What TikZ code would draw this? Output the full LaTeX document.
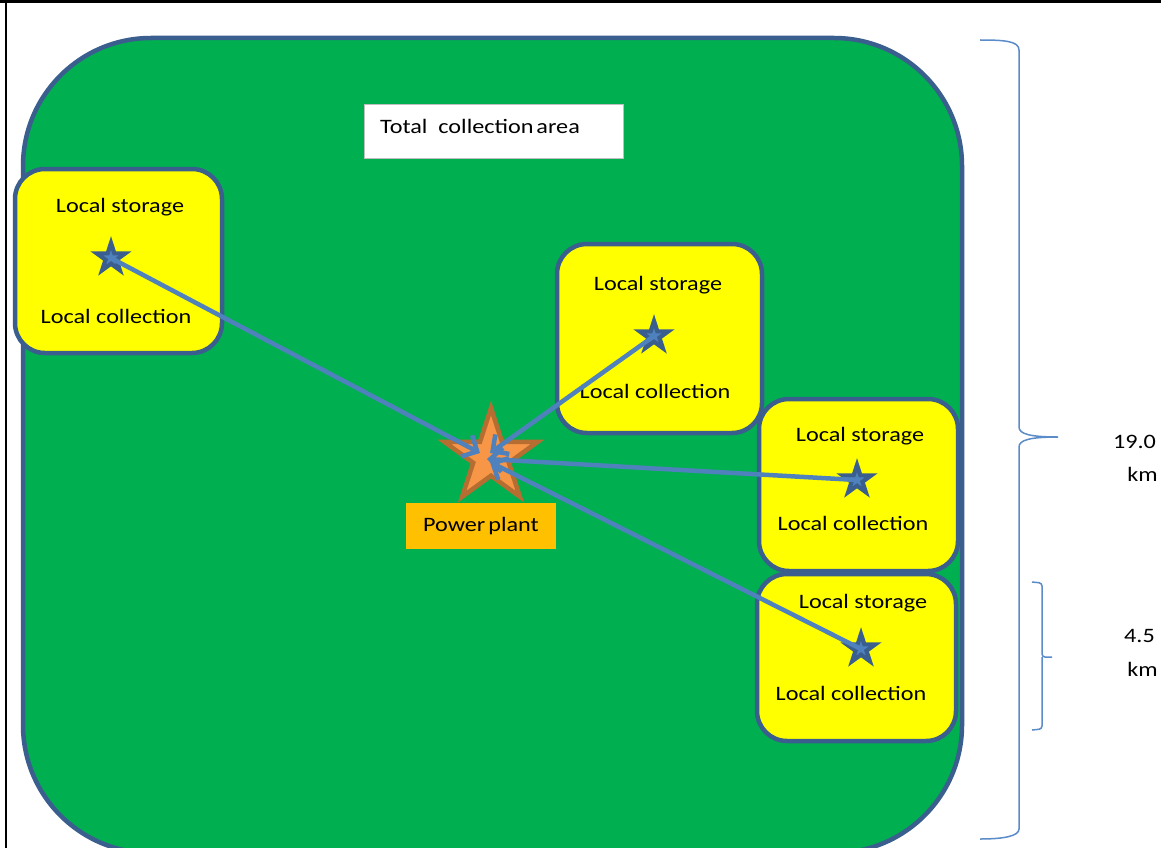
\documentclass[tikz,border=0pt]{standalone}
\usepackage{fontspec}
\setmainfont[FakeStretch=1.18]{Carlito}
\usetikzlibrary{shapes.geometric,arrows.meta}
\definecolor{grn}{HTML}{00B050}
\definecolor{outl}{HTML}{3A5F8E}
\definecolor{yel}{HTML}{FFFF00}
\definecolor{arr}{HTML}{4F81BD}
\definecolor{ppfill}{HTML}{F79646}
\definecolor{ppline}{HTML}{B66D31}
\definecolor{lblc}{HTML}{FFC000}
\definecolor{brc}{HTML}{5B8BC9}
\tikzset{
  ybox/.style={draw=outl, fill=yel, line width=4.5pt, rounded corners=30pt, inner sep=0pt},
  txt/.style={anchor=base, inner sep=0pt, font=\fontsize{20.5}{24}\selectfont},
  sstar/.style={star, star points=5, star point ratio=2.618, minimum size=30pt, inner sep=0pt,
    fill=arr, draw=outl, line width=4.2pt, miter limit=10},
  bigstar/.style={star, star points=5, star point ratio=2.618, minimum size=98pt, inner sep=0pt,
    fill=ppfill, draw=ppline, line width=4.5pt, miter limit=10},
  link/.style={draw=arr, line width=4.5pt, -{Straight Barb[length=12pt,width=24pt]}},
  brace/.style={draw=brc, line width=1.5pt}
}
\begin{document}
\begin{tikzpicture}[x=1pt,y=-1pt]
\useasboundingbox (0,0) rectangle (1161,848);
\clip (0,0) rectangle (1161,848);
\fill[white] (0,0) rectangle (1161,848);
% outer frame (top and left edges)
\draw[line width=2.7pt] (0,1.3) -- (1161,1.3);
\draw[line width=1.3pt] (6,0) -- (6,848);
% total collection area
\draw[fill=grn, draw=outl, line width=4.5pt, rounded corners=128pt] (23,38) rectangle (962,853);
\node[draw=black!25, fill=white, line width=1.2pt, minimum width=259pt, minimum height=54pt, anchor=north west, inner sep=0pt] (title) at (364,104) {};
\node[anchor=base west, inner sep=0pt, font=\fontsize{20.5}{24}\selectfont] (titletxt) at (380,134) {Total\ \ collection\hspace{3pt}area};
% local boxes
\node[ybox, minimum width=199pt, minimum height=172pt] (b3) at (858.5,485) {};
\node[ybox, minimum width=207pt, minimum height=184pt] (b1) at (118.5,261) {};
\node[ybox, minimum width=205pt, minimum height=189pt] (b2) at (659.5,338.5) {};
\node[ybox, minimum width=199pt, minimum height=167pt] (b4) at (856.5,657.5) {};
% texts
\node[txt] (b1s) at (120,212) {Local storage};
\node[txt] (b1c) at (116,323) {Local collection};
\node[txt] (b2s) at (658,290) {Local storage};
\node[txt] (b2c) at (655,398) {Local collection};
\node[txt] (b3s) at (860,441) {Local storage};
\node[txt] (b3c) at (853,530) {Local collection};
\node[txt] (b4s) at (863,608) {Local storage};
\node[txt] (b4c) at (851,700) {Local collection};
% stars
\node[sstar] (s1) at (111,258) {};
\node[sstar] (s2) at (654,336) {};
\node[sstar] (s3) at (857,480) {};
\node[sstar] (s4) at (861,649) {};
% power plant
\node[bigstar] (pp) at (491,457) {};
\node[fill=lblc, minimum width=150pt, minimum height=46pt, inner sep=0pt, font=\fontsize{20.5}{24}\selectfont] (pplbl) at (481,526) {Power\hspace{3pt}plant};
\coordinate (e1) at (480,453);
\coordinate (e2) at (490,453);
\coordinate (e3) at (487,459);
\coordinate (e4) at (490,462);
\draw[link] (s1.center) -- (e1);
\draw[link] (s2.center) -- (e2);
\draw[link] (s3.center) -- (e3);
\draw[link] (s4.center) -- (e4);
% braces
\draw[brace] (980,40) .. controls (1004,40) and (1019,41) .. (1019,50) -- (1019,427)
  .. controls (1019,434) and (1030,437) .. (1058,437)
  .. controls (1030,437) and (1019,440) .. (1019,447) -- (1019,829)
  .. controls (1019,836) and (1004,839) .. (980,839);
\draw[brace, rounded corners=3pt] (1032,582) -- (1042,583) -- (1042,657) -- (1052,657);
\draw[brace, rounded corners=3pt] (1042,657) -- (1042,729) -- (1032,730);
\node[anchor=center, inner sep=0pt, font=\fontsize{20.5}{24}\selectfont] (d1) at (1134.5,442) {19.0};
\node[anchor=center, inner sep=0pt, font=\fontsize{20.5}{24}\selectfont] (d1u) at (1142.5,474) {km};
\node[anchor=center, inner sep=0pt, font=\fontsize{20.5}{24}\selectfont] (d2) at (1139.5,636) {4.5};
\node[anchor=center, inner sep=0pt, font=\fontsize{20.5}{24}\selectfont] (d2u) at (1142.5,669) {km};
\end{tikzpicture}
\end{document}
